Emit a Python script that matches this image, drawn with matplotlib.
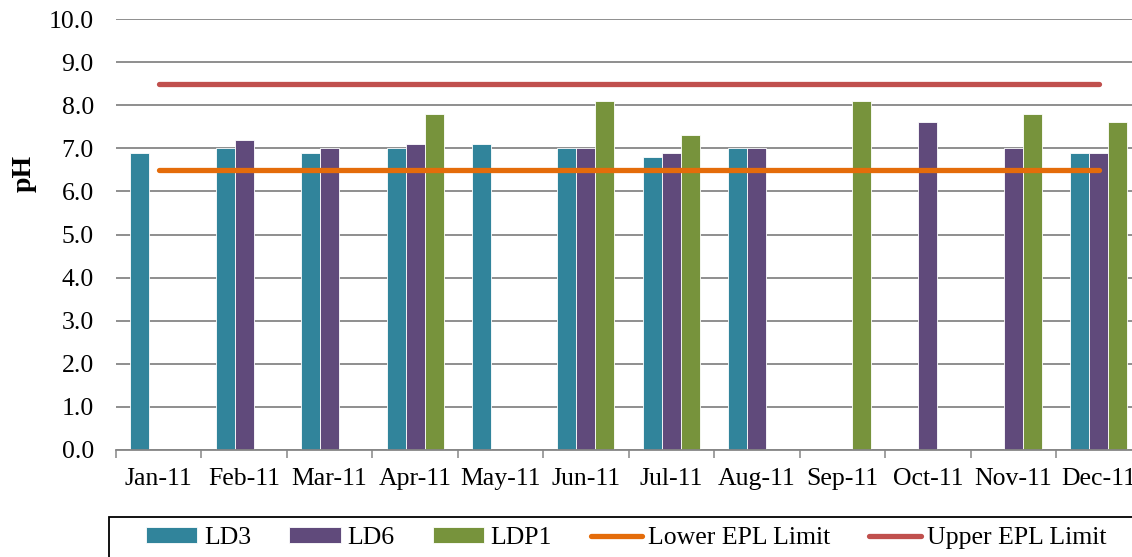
import numpy as np
import matplotlib
matplotlib.use("Agg")
import matplotlib.pyplot as plt
from matplotlib.patches import Rectangle
from matplotlib.lines import Line2D

plt.rcParams['font.family'] = ['Liberation Serif', 'DejaVu Serif']

months = ["Jan-11", "Feb-11", "Mar-11", "Apr-11", "May-11", "Jun-11",
          "Jul-11", "Aug-11", "Sep-11", "Oct-11", "Nov-11", "Dec-11"]
nan = np.nan
ld3 = [6.9, 7.0, 6.9, 7.0, 7.1, 7.0, 6.8, 7.0, nan, nan, nan, 6.9]
ld6 = [nan, 7.2, 7.0, 7.1, nan, 7.0, 6.9, 7.0, nan, 7.6, 7.0, 6.9]
ldp1 = [nan, nan, nan, 7.8, nan, 8.1, 7.3, nan, 8.1, nan, 7.8, 7.6]
lower_limit = 6.5
upper_limit = 8.5
y_ticks = [0.0, 1.0, 2.0, 3.0, 4.0, 5.0, 6.0, 7.0, 8.0, 9.0, 10.0]

C_LD3 = "#31849B"
C_LD6 = "#604A7B"
C_LDP1 = "#77933C"
C_LOW = "#E46C0A"
C_UP = "#C0504D"
GRID = "#868686"

W, H = 1132, 557
fig = plt.figure(figsize=(W / 100, H / 100), dpi=100)
ax = fig.add_axes([116 / W, 107 / H, 1025.4 / W, 431 / H])

x = np.arange(len(months))
bw = 1 / 4.5
series = [(ld3, C_LD3, "LD3"), (ld6, C_LD6, "LD6"), (ldp1, C_LDP1, "LDP1")]
bars = []
for i, (vals, col, name) in enumerate(series):
    b = ax.bar(x + (i - 1) * bw, vals, width=bw, color=col, edgecolor="white",
               linewidth=0.6, label=name, zorder=2)
    bars.append(b)

l_low, = ax.plot([x[0], x[-1]], [lower_limit] * 2, color=C_LOW, lw=3.8,
                 solid_capstyle="round", zorder=3, label="Lower EPL Limit")
l_up, = ax.plot([x[0], x[-1]], [upper_limit] * 2, color=C_UP, lw=3.8,
                solid_capstyle="round", zorder=3, label="Upper EPL Limit")

ax.set_xlim(-0.5, len(months) - 0.5)
ax.set_ylim(0, 10)
ax.set_yticks(y_ticks)
ax.set_yticklabels([f"{v:.1f}" for v in y_ticks])
ax.yaxis.grid(True, color=GRID, lw=1.3, zorder=0)
ax.set_axisbelow(True)

ax.set_xticks(x)
ax.set_xticklabels(months)
ax.set_xticks(np.arange(-0.5, len(months) + 0.5, 1), minor=True)
ax.tick_params(axis="x", which="major", length=0, pad=13, labelsize=18.5)
ax.tick_params(axis="x", which="minor", length=5.5, width=1.1, color=GRID,
               direction="out")
ax.tick_params(axis="y", length=0, pad=16, labelsize=18.5)

for s in ["top", "right", "left"]:
    ax.spines[s].set_visible(False)
ax.spines["bottom"].set_color(GRID)
ax.spines["bottom"].set_linewidth(1.3)

fig.text(24 / W, 1 - 173 / H, "pH", rotation=90, fontsize=20,
         fontweight="bold", ha="center", va="center")

# legend frame
fig.patches.append(Rectangle((109 / W, -0.05), 1.2, 1 - 517 / H + 0.05,
                             transform=fig.transFigure, fill=False,
                             edgecolor="black", lw=1.3))
handles = [bars[0], bars[1], bars[2],
           Line2D([], [], color=C_LOW, lw=3.8, solid_capstyle="round"),
           Line2D([], [], color=C_UP, lw=3.8, solid_capstyle="round")]
labels = ["LD3", "LD6", "LDP1", "Lower EPL Limit", "Upper EPL Limit"]
fig.legend(handles, labels, loc="center left",
           bbox_to_anchor=(146 / W, 1 - 538 / H), ncol=5, frameon=False,
           fontsize=18.5, borderpad=0, borderaxespad=0, handlelength=2.0,
           handleheight=0.55, handletextpad=0.25, columnspacing=1.5)

fig.savefig("out.png", dpi=100)
